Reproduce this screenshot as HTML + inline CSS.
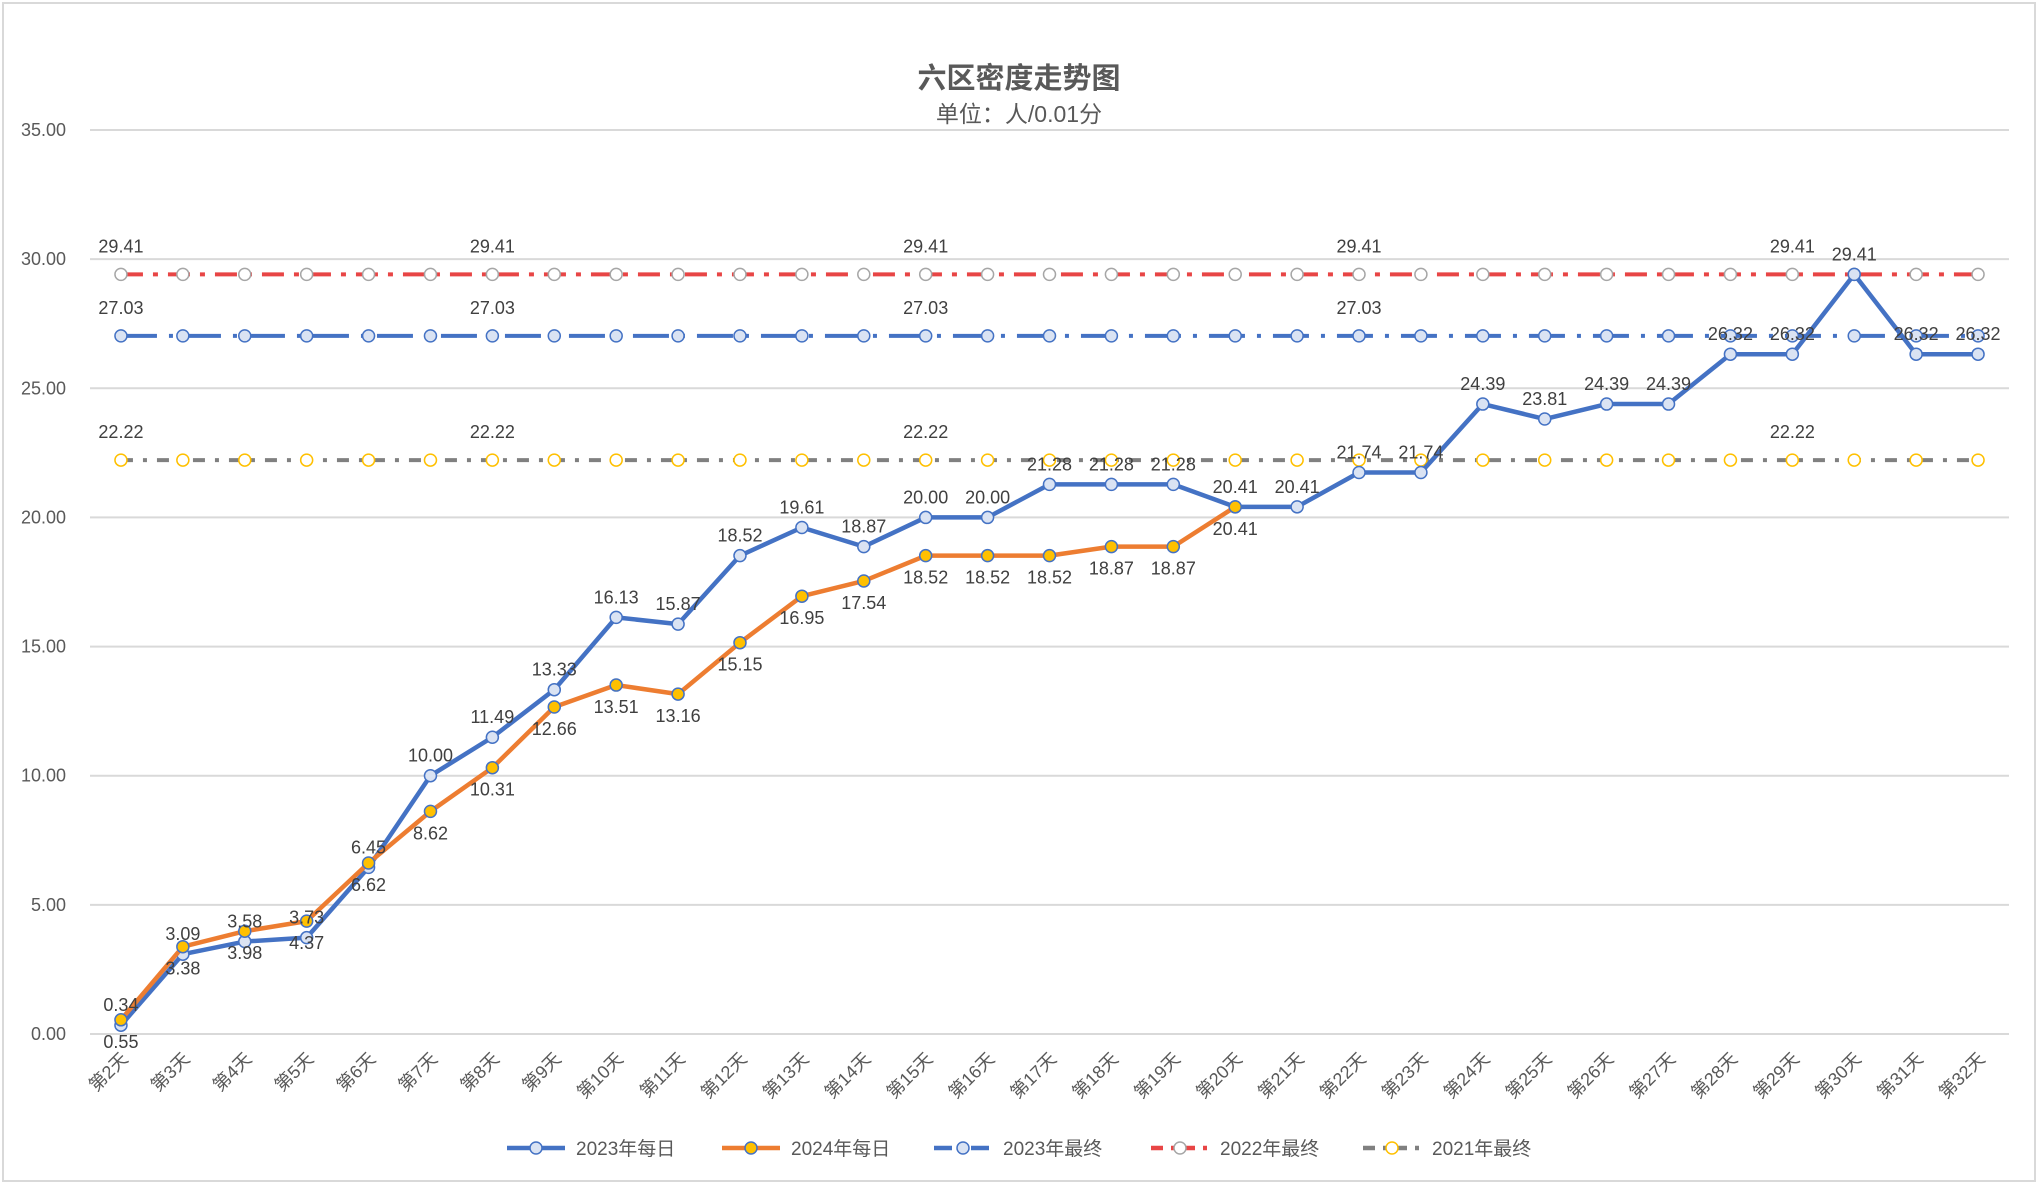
<!DOCTYPE html>
<html><head><meta charset="utf-8"><style>
html,body{margin:0;padding:0;background:#fff;}
svg{display:block;font-family:"Liberation Sans","Noto Sans CJK SC",sans-serif;}
</style></head><body>
<svg id="chart" width="2039" height="1185" viewBox="0 0 2039 1185">
<rect x="3" y="3" width="2032" height="1178" fill="#fff" stroke="#d9d9d9" stroke-width="2"/>
<text x="1019" y="88" text-anchor="middle" font-size="29" font-weight="bold" fill="#595959">六区密度走势图</text>
<text x="1019" y="122" text-anchor="middle" font-size="23" fill="#595959">单位：人/0.01分</text>
<g id="grid"></g><g id="series"></g><g id="labels"></g><g id="legend"></g>
</svg>
<script>
const categories = ["第2天","第3天","第4天","第5天","第6天","第7天","第8天","第9天","第10天","第11天","第12天","第13天","第14天","第15天","第16天","第17天","第18天","第19天","第20天","第21天","第22天","第23天","第24天","第25天","第26天","第27天","第28天","第29天","第30天","第31天","第32天"];
const daily2023 = [0.34,3.09,3.58,3.73,6.45,10.00,11.49,13.33,16.13,15.87,18.52,19.61,18.87,20.00,20.00,21.28,21.28,21.28,20.41,20.41,21.74,21.74,24.39,23.81,24.39,24.39,26.32,26.32,29.41,26.32,26.32];
const daily2024 = [0.55,3.38,3.98,4.37,6.62,8.62,10.31,12.66,13.51,13.16,15.15,16.95,17.54,18.52,18.52,18.52,18.87,18.87,20.41];
const final2023 = 27.03;
const final2022 = 29.41;
const final2021 = 22.22;
const yTicks = [0,5,10,15,20,25,30,35];
const final2023LabelIdx = [0,6,13,20];
const final2022LabelIdx = [0,6,13,20,27];
const final2021LabelIdx = [0,6,13,27];

const NS="http://www.w3.org/2000/svg";
const L=90,R=2009,Y0=1034,YT=130,YMAX=35;
const step=(R-L)/categories.length;
const x=i=>L+step*(i+0.5);
const y=v=>Y0-(v/YMAX)*(Y0-YT);
function mk(tag,attrs,parent,txt){const e=document.createElementNS(NS,tag);for(const k in attrs)e.setAttribute(k,attrs[k]);if(txt!==undefined)e.textContent=txt;parent.appendChild(e);return e;}
const grid=document.getElementById('grid'),ser=document.getElementById('series'),lab=document.getElementById('labels'),leg=document.getElementById('legend');

yTicks.forEach(t=>{
  const ln=mk('line',{x1:L,x2:R,y1:y(t),y2:y(t),stroke:'#d9d9d9','stroke-width':2},grid);
  
  
  const tx=mk('text',{x:66,y:y(t)+6,'text-anchor':'end','font-size':18,fill:'#595959'},grid,t.toFixed(2));
  
  
});
categories.forEach((c,i)=>{
  const tx=mk('text',{x:x(i)+8,y:1060,'text-anchor':'end','font-size':18,fill:'#595959',transform:`rotate(-45 ${x(i)+8} 1060)`},grid,c);
  
  
});

function hline(v,color,dash,mfill,mstroke,labelIdx,name){
  const ln=mk('line',{x1:x(0),x2:x(categories.length-1),y1:y(v),y2:y(v),stroke:color,'stroke-width':4,'stroke-dasharray':dash},ser);
  
  
  categories.forEach((c,i)=>{
    const m=mk('circle',{cx:x(i),cy:y(v),r:6,fill:mfill,stroke:mstroke,'stroke-width':1.5},ser);
    
    
  });
  labelIdx.forEach(i=>{
    const t=mk('text',{x:x(i),y:y(v)-22,'text-anchor':'middle','font-size':18,fill:'#404040'},lab,v.toFixed(2));
    
    
  });
}
hline(final2022,'#e84545','22 10 5 10','#fff','#a6a6a6',final2022LabelIdx,'final-2022');
hline(final2023,'#4472c4','36 12 4 12','#dae3f3','#4472c4',final2023LabelIdx,'final-2023');
hline(final2021,'#808080','12 10 4 10','#fff','#ffc000',final2021LabelIdx,'final-2021');

function series(data,color,mfill,mstroke,name,above){
  const pts=data.map((v,i)=>x(i)+','+y(v)).join(' ');
  const pl=mk('polyline',{points:pts,fill:'none',stroke:color,'stroke-width':4.5,'stroke-linejoin':'round'},ser);
  
  
  data.forEach((v,i)=>{
    const m=mk('circle',{cx:x(i),cy:y(v),r:6,fill:mfill,stroke:mstroke,'stroke-width':1.5},ser);
    
    
    const t=mk('text',{x:x(i),y:above?y(v)-14:y(v)+28,'text-anchor':'middle','font-size':18,fill:'#404040'},lab,v.toFixed(2));
    
    
  });
}
series(daily2023,'#4472c4','#dae3f3','#4472c4','daily-2023',true);
series(daily2024,'#ed7d31','#ffc000','#4472c4','daily-2024',false);

const legendItems=[
  {t:'2023年每日',c:'#4472c4',d:'',mf:'#dae3f3',ms:'#4472c4',x:507},
  {t:'2024年每日',c:'#ed7d31',d:'',mf:'#ffc000',ms:'#4472c4',x:722},
  {t:'2023年最终',c:'#4472c4',d:'18 8 3 8',mf:'#dae3f3',ms:'#4472c4',x:934},
  {t:'2022年最终',c:'#e84545',d:'12 8 4 8',mf:'#fff',ms:'#a6a6a6',x:1151},
  {t:'2021年最终',c:'#808080',d:'12 8 4 8',mf:'#fff',ms:'#ffc000',x:1363}
];
legendItems.forEach(it=>{
  const g=mk('g',{},leg);
  
  
  mk('line',{x1:it.x,x2:it.x+58,y1:1148,y2:1148,stroke:it.c,'stroke-width':4.5,'stroke-dasharray':it.d},g);
  mk('circle',{cx:it.x+29,cy:1148,r:6,fill:it.mf,stroke:it.ms,'stroke-width':1.5},g);
  mk('text',{x:it.x+69,y:1155,'font-size':19,fill:'#595959'},g,it.t);
});
</script>
</body></html>
